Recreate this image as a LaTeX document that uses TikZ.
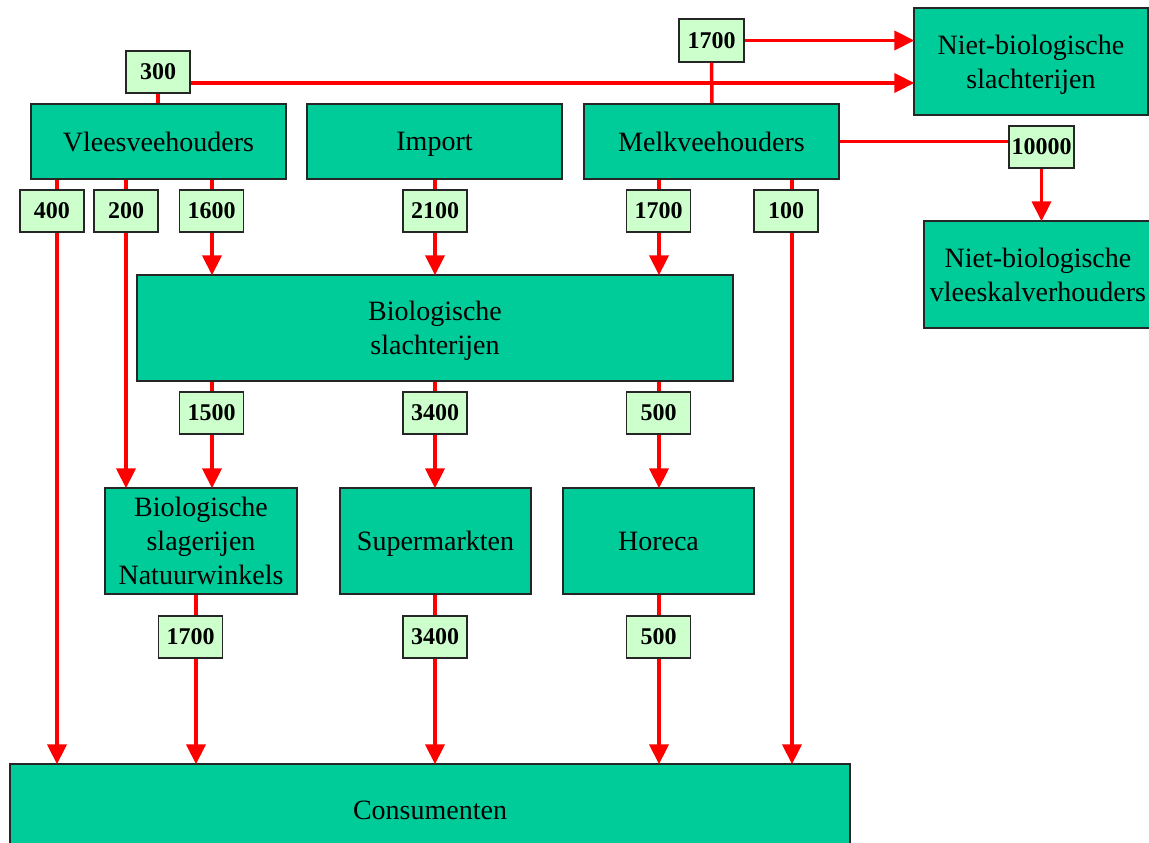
\documentclass[tikz,border=0pt]{standalone}
\usepackage{fontspec}
\setmainfont{Liberation Serif}
\usetikzlibrary{arrows.meta}
\definecolor{boxgreen}{RGB}{0,204,153}
\definecolor{labgreen}{RGB}{204,255,204}
\definecolor{flowred}{RGB}{255,0,0}
\tikzset{
  box/.style={draw=black!85, line width=1.3pt, fill=boxgreen, align=center, inner sep=0pt,
    text depth=0pt, font=\fontsize{28}{34}\selectfont},
  lab/.style={draw=black!85, line width=1.3pt, fill=labgreen, inner sep=0pt,
    minimum width=64pt, minimum height=42pt, font=\fontsize{24}{28}\selectfont\bfseries},
  flow/.style={draw=flowred, line width=3.5pt},
  flowar/.style={flow, -{Triangle[length=20pt,width=19pt]}, shorten >=-1pt},
}
\begin{document}
\begin{tikzpicture}[x=1pt,y=-1pt]
\useasboundingbox (0,0) rectangle (1149,843);
% boxes
\node[box, minimum width=255pt, minimum height=75pt] (vlees) at (158.5,141.5) {Vleesveehouders};
\node[box, minimum width=255pt, minimum height=75pt] (import) at (434.5,141.5) {Import};
\node[box, minimum width=255pt, minimum height=75pt] (melk) at (711.5,141.5) {Melkveehouders};
\node[box, minimum width=234pt, minimum height=107pt] (nbs) at (1031,61.5) {Niet-biologische\\slachterijen};
\node[box, minimum width=228pt, minimum height=107pt] (nbv) at (1038,274.5) {Niet-biologische\\vleeskalverhouders};
\node[box, minimum width=596pt, minimum height=106pt] (bs) at (435,328) {Biologische\\slachterijen};
\node[box, minimum width=192pt, minimum height=106pt] (slag) at (201,541) {Biologische\\slagerijen\\Natuurwinkels};
\node[box, minimum width=191pt, minimum height=106pt] (super) at (435.5,541) {Supermarkten};
\node[box, minimum width=191pt, minimum height=106pt] (horeca) at (658.5,541) {Horeca};
\node[box, minimum width=840pt, minimum height=92pt] (cons) at (430,810) {Consumenten};
% line positions
\coordinate (x57) at (57,0);
\coordinate (x126) at (126,0);
\coordinate (x158) at (158,0);
\coordinate (x195) at (196,0);
\coordinate (x212) at (212,0);
\coordinate (x435) at (435,0);
\coordinate (x659) at (659,0);
\coordinate (x712) at (712,0);
\coordinate (x792) at (792,0);
\coordinate (y83) at (0,83);
% connectors (drawn below the labels)
\draw[flowar] (vlees.south -| x57) -- (cons.north -| x57);
\draw[flowar] (vlees.south -| x126) -- (slag.north -| x126);
\draw[flowar] (vlees.south -| x212) -- (bs.north -| x212);
\draw[flowar] (import.south -| x435) -- (bs.north -| x435);
\draw[flowar] (melk.south -| x659) -- (bs.north -| x659);
\draw[flowar] (melk.south -| x792) -- (cons.north -| x792);
\draw[flowar] (bs.south -| x212) -- (slag.north -| x212);
\draw[flowar] (bs.south -| x435) -- (super.north -| x435);
\draw[flowar] (bs.south -| x659) -- (horeca.north -| x659);
\draw[flowar] (slag.south -| x195) -- (cons.north -| x195);
\draw[flowar] (super.south -| x435) -- (cons.north -| x435);
\draw[flowar] (horeca.south -| x659) -- (cons.north -| x659);
% labels
\node[lab] (l300) at (158,72) {300};
\node[lab, minimum width=65pt, minimum height=43pt] (l1700t) at (711.5,40.5) {1700};
\node[lab, minimum width=65pt] (l10000) at (1041.5,147) {10000};
\node[lab] (l400) at (52,211) {400};
\node[lab] (l200) at (126,211) {200};
\node[lab] (l1600) at (211.5,211) {1600};
\node[lab] (l2100) at (435,211) {2100};
\node[lab] (l1700) at (658.5,211) {1700};
\node[lab] (l100) at (786,211) {100};
\node[lab] (l1500) at (211.5,413) {1500};
\node[lab] (l3400) at (435,413) {3400};
\node[lab] (l500) at (658.5,413) {500};
\node[lab] (l1700b) at (190.5,637) {1700};
\node[lab] (l3400b) at (435,637) {3400};
\node[lab] (l500b) at (658.5,637) {500};
% top connectors
\draw[flow] (vlees.north -| x158) -- (l300.south);
\draw[flowar] (l300.east |- y83) -- (nbs.west |- y83);
\draw[flow] (melk.north -| x712) -- (l1700t.south);
\draw[flowar] (l1700t.east) -- (nbs.west |- l1700t.east);
\draw[flow] (melk.east) -- (melk.east -| l10000.west);
\draw[flowar] (l10000.south) -- (l10000.south |- nbv.north);
\end{tikzpicture}
\end{document}
